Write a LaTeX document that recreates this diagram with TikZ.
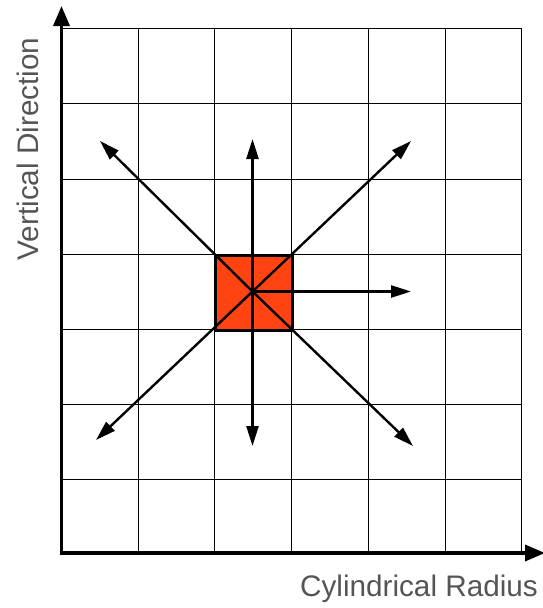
\documentclass[tikz,border=0pt]{standalone}
\usepackage{fontspec}
\setmainfont{Liberation Sans}
\usetikzlibrary{arrows.meta}
\definecolor{sqred}{HTML}{FF4411}
\definecolor{lbl}{HTML}{555555}
\begin{document}
\begin{tikzpicture}[x=1pt,y=-1pt,
  gridline/.style={line width=1pt,black},
  axisline/.style={line width=3.6pt,-{Triangle[length=20pt,width=16pt]}},
  flow/.style={line width=2.4pt,-{Triangle[length=20pt,width=12pt]}},
  lab/.style={text=lbl,font=\fontsize{29.7}{34}\selectfont,inner sep=0pt}]
\useasboundingbox (0,0) rectangle (543,608);
% grid
\foreach \x in {138,214,291,368,445,521} \draw[gridline] (\x,28) -- (\x,553);
\foreach \y in {28,103,179,254,329,404,479} \draw[gridline] (62,\y) -- (521,\y);
% square
\node[draw,line width=3pt,fill=sqred,minimum width=77pt,minimum height=75pt,inner sep=0pt,anchor=north west] (sq) at (214,254) {};
\coordinate (c) at (252.5,291.5);
% arrow ends
\coordinate (ul) at (100,141);
\coordinate (u) at (252.5,139);
\coordinate (ur) at (411,141);
\coordinate (r) at (411,291.5);
\coordinate (d) at (252.5,446);
\coordinate (dl) at (96,440);
\coordinate (dr) at (413,446);
\foreach \t in {ul,u,ur,r,d,dl,dr} \draw[flow] (c) -- (\t);
% axes
\coordinate (o) at (61.5,553);
\coordinate (ytop) at (61.5,6);
\coordinate (xend) at (545,553);
\draw[axisline] (61.5,555) -- (ytop);
\draw[axisline] (59.7,553) -- (xend);
% labels
\node[lab] (xl) at (419,589) {Cylindrical Radius};
\node[lab,rotate=90] (yl) at (28,149) {Vertical Direction};
\end{tikzpicture}
\end{document}
